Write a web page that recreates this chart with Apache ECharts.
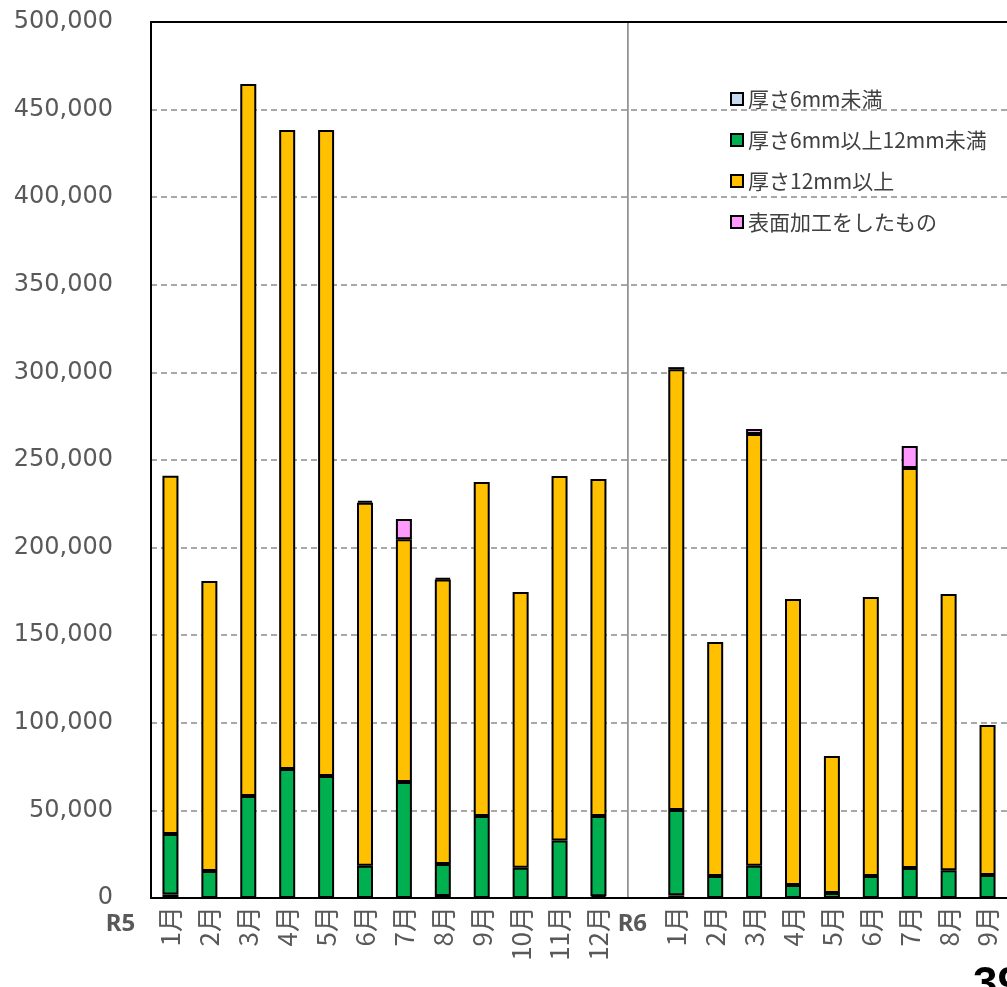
<!DOCTYPE html>
<html>
<head>
<meta charset="utf-8">
<script src="https://cdn.jsdelivr.net/npm/echarts@6/dist/echarts.min.js"></script>
<style>
  html, body { margin: 0; padding: 0; background: #fff; }
  #main { width: 1007px; height: 987px; }
</style>
</head>
<body>
<div id="main"></div>
<script>
// R5 1-12月, gap, R6 1-9月
var months = ['1月','2月','3月','4月','5月','6月','7月','8月','9月','10月','11月','12月','',
              '1月','2月','3月','4月','5月','6月','7月','8月','9月'];
var groups = ['R5', 'R6'];
var yTicks = [0, 50000, 100000, 150000, 200000, 250000, 300000, 350000, 400000, 450000, 500000];

var thin   = [2000, 0, 0, 0, 0, 0, 0, 1200, 0, 0, 0, 1000, null,
              1500, 0, 0, 0, 0, 0, 0, 0, 0];
var mid    = [34500, 15400, 58200, 73600, 69600, 18400, 66200, 18200, 46800, 17200, 32800, 45800, null,
              48700, 12600, 18400, 7400, 2800, 12600, 17100, 15800, 13100];
var thick  = [204500, 165500, 406400, 364800, 368800, 207200, 138500, 162400, 190600, 157500, 208100, 192400, null,
              251600, 133500, 246500, 163300, 78200, 159200, 228300, 157700, 85600];
var coated = [0, 0, 0, 0, 0, 1000, 11600, 800, 0, 0, 0, 0, null,
              1200, 0, 2800, 0, 0, 0, 12600, 0, 0];

var names  = ['厚さ6mm未満', '厚さ6mm以上12mm未満', '厚さ12mm以上', '表面加工をしたもの'];
var colors = ['#C6D9F1', '#00B050', '#FFC000', '#FF99FF'];

var chart = echarts.init(document.getElementById('main'));

function bar(i, vals) {
  return {
    name: names[i],
    type: 'bar',
    stack: 'total',
    barWidth: 16,
    data: vals.map(function (v) { return v ? v : null; }),
    itemStyle: { color: colors[i], borderColor: '#000', borderWidth: 2 }
  };
}

var option = {
  animation: false,
  backgroundColor: '#fff',
  grid: { left: 151, top: 22, right: -2, bottom: 89 },
  legend: {
    orient: 'vertical',
    left: 725,
    top: 83,
    itemWidth: 12,
    itemHeight: 12,
    itemGap: 19,
    icon: 'rect',
    data: names,
    textStyle: { color: '#404040', fontSize: 21, lineHeight: 22, fontFamily: 'Noto Sans CJK JP' }
  },
  xAxis: [{
    type: 'category',
    data: months,
    axisLine: { lineStyle: { color: '#000', width: 2 } },
    axisTick: { show: false },
    axisLabel: {
      interval: 0, rotate: 90, margin: 8,
      color: '#595959', fontSize: 26, fontFamily: 'Noto Sans CJK JP'
    }
  }, {
    type: 'category',
    position: 'top',
    data: months,
    axisLine: { lineStyle: { color: '#000', width: 2 } },
    axisTick: { show: false },
    axisLabel: { show: false }
  }],
  yAxis: {
    type: 'value',
    min: yTicks[0],
    max: yTicks[yTicks.length - 1],
    interval: yTicks[1] - yTicks[0],
    axisLine: { show: true, lineStyle: { color: '#000', width: 2 } },
    axisTick: { show: false },
    axisLabel: {
      margin: 38, color: '#595959', fontSize: 24, fontFamily: 'DejaVu Sans',
      formatter: function (v) { return v.toLocaleString('en-US'); }
    },
    splitLine: { lineStyle: { color: '#8c8c8c', type: [6, 4], width: 1.5 } }
  },
  series: [bar(0, thin), bar(1, mid), bar(2, thick), bar(3, coated)]
};

chart.setOption(option);

// separator between years, year labels, page number
var px = function (i) { return chart.convertToPixel({ xAxisIndex: 0 }, i); };
var yTop = chart.convertToPixel({ yAxisIndex: 0 }, yTicks[yTicks.length - 1]);
var yBot = chart.convertToPixel({ yAxisIndex: 0 }, 0);
var sepX = (px(11) + px(12)) / 2 + 10;

chart.setOption({
  graphic: [
    { type: 'line', shape: { x1: sepX, y1: yTop, x2: sepX, y2: yBot },
      style: { stroke: '#7f7f7f', lineWidth: 1.5 } },
    { type: 'text', x: px(0) - 50, y: yBot + 26,
      style: { text: groups[0], fill: '#595959', font: 'bold 24px "Noto Sans"', textAlign: 'center', textVerticalAlign: 'middle' } },
    { type: 'text', x: px(12) - 5, y: yBot + 26,
      style: { text: groups[1], fill: '#595959', font: 'bold 24px "Noto Sans"', textAlign: 'center', textVerticalAlign: 'middle' } },
    { type: 'text', x: 973, y: 964,
      style: { text: '39', fill: '#000', font: 'bold 44px "Liberation Sans"' } }
  ]
});
</script>
</body>
</html>
